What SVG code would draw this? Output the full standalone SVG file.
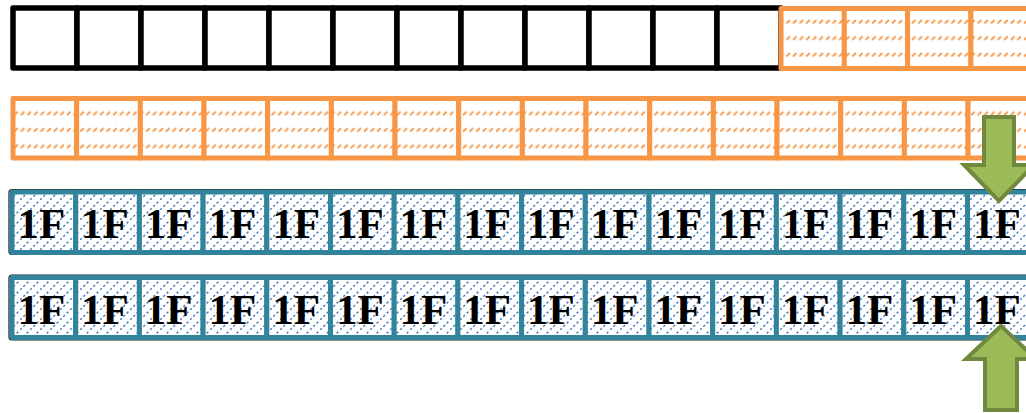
<svg xmlns="http://www.w3.org/2000/svg" width="1026" height="413" viewBox="0 0 1026 413">
  <style>
    .blk { fill: #ffffff; stroke: #000000; stroke-width: 5.5; stroke-linejoin: round; }
    .or1 { fill: url(#po1); stroke: #F79646; stroke-width: 5; stroke-linejoin: round; }
    .or2 { fill: url(#po2); stroke: #F79646; stroke-width: 5; stroke-linejoin: round; }
    .tl { fill: url(#pb); stroke: #31849B; stroke-width: 5; stroke-linejoin: round; }
    .lbl { font-family: "Liberation Serif", "Times New Roman", serif; font-weight: bold; font-size: 43px; fill: #000000; text-anchor: middle; }
    .arr { fill: #9BBB59; stroke: #71893F; stroke-width: 4; stroke-linejoin: miter; }
    .frame { fill: none; stroke: #1a1a1a; stroke-width: 1.2; }
  </style>
  <defs>
    <pattern id="po1" patternUnits="userSpaceOnUse" x="0" y="2.5" width="6.6" height="16.5">
      <rect width="6.6" height="16.5" fill="#ffffff"/>
      <path d="M1 4.5 L4.5 1" stroke="#F79646" stroke-width="1.8" fill="none"/>
    </pattern>
    <pattern id="po2" patternUnits="userSpaceOnUse" x="0" y="11.7" width="6.6" height="16.5">
      <rect width="6.6" height="16.5" fill="#ffffff"/>
      <path d="M1 4.5 L4.5 1" stroke="#F79646" stroke-width="1.8" fill="none"/>
    </pattern>
    <pattern id="pb" patternUnits="userSpaceOnUse" x="0" y="0" width="10" height="10">
      <rect width="10" height="10" fill="#ffffff"/>
      <path d="M0 10 L10 0" stroke="#4F81BD" stroke-width="1.5" stroke-dasharray="2.4 2.3" fill="none"/>
    </pattern>
  </defs>

  <g id="row1">
    <rect id="r1c1" class="blk" x="13" y="8" width="64" height="60"/>
    <rect id="r1c2" class="blk" x="77" y="8" width="64" height="60"/>
    <rect id="r1c3" class="blk" x="141" y="8" width="64" height="60"/>
    <rect id="r1c4" class="blk" x="205" y="8" width="64" height="60"/>
    <rect id="r1c5" class="blk" x="269" y="8" width="64" height="60"/>
    <rect id="r1c6" class="blk" x="333" y="8" width="64" height="60"/>
    <rect id="r1c7" class="blk" x="397" y="8" width="64" height="60"/>
    <rect id="r1c8" class="blk" x="461" y="8" width="64" height="60"/>
    <rect id="r1c9" class="blk" x="525" y="8" width="64" height="60"/>
    <rect id="r1c10" class="blk" x="589" y="8" width="64" height="60"/>
    <rect id="r1c11" class="blk" x="653" y="8" width="64" height="60"/>
    <rect id="r1c12" class="blk" x="717" y="8" width="64" height="60"/>
    <rect id="r1c13" class="or1" x="781" y="8.5" width="63.3" height="60"/>
    <rect id="r1c14" class="or1" x="844.3" y="8.5" width="63.3" height="60"/>
    <rect id="r1c15" class="or1" x="907.6" y="8.5" width="63.3" height="60"/>
    <rect id="r1c16" class="or1" x="970.9" y="8.5" width="63.3" height="60"/>
  </g>

  <g id="row2">
    <rect id="r2c1" class="or2" x="13" y="98.5" width="63.67" height="59.5"/>
    <rect id="r2c2" class="or2" x="76.67" y="98.5" width="63.67" height="59.5"/>
    <rect id="r2c3" class="or2" x="140.34" y="98.5" width="63.67" height="59.5"/>
    <rect id="r2c4" class="or2" x="204.01" y="98.5" width="63.67" height="59.5"/>
    <rect id="r2c5" class="or2" x="267.68" y="98.5" width="63.67" height="59.5"/>
    <rect id="r2c6" class="or2" x="331.35" y="98.5" width="63.67" height="59.5"/>
    <rect id="r2c7" class="or2" x="395.02" y="98.5" width="63.67" height="59.5"/>
    <rect id="r2c8" class="or2" x="458.69" y="98.5" width="63.67" height="59.5"/>
    <rect id="r2c9" class="or2" x="522.36" y="98.5" width="63.67" height="59.5"/>
    <rect id="r2c10" class="or2" x="586.03" y="98.5" width="63.67" height="59.5"/>
    <rect id="r2c11" class="or2" x="649.7" y="98.5" width="63.67" height="59.5"/>
    <rect id="r2c12" class="or2" x="713.37" y="98.5" width="63.67" height="59.5"/>
    <rect id="r2c13" class="or2" x="777.04" y="98.5" width="63.67" height="59.5"/>
    <rect id="r2c14" class="or2" x="840.71" y="98.5" width="63.67" height="59.5"/>
    <rect id="r2c15" class="or2" x="904.38" y="98.5" width="63.67" height="59.5"/>
    <rect id="r2c16" class="or2" x="968.05" y="98.5" width="63.67" height="59.5"/>
  </g>

  <g id="row3">
    <rect class="frame" x="9" y="189.5" width="1100" height="65" rx="3"/>
    <g id="r3c1"><rect class="tl" x="12" y="192" width="63.7" height="60.5"/><text class="lbl" x="41.3" y="238">1F</text></g>
    <g id="r3c2"><rect class="tl" x="75.7" y="192" width="63.7" height="60.5"/><text class="lbl" x="105" y="238">1F</text></g>
    <g id="r3c3"><rect class="tl" x="139.4" y="192" width="63.7" height="60.5"/><text class="lbl" x="168.7" y="238">1F</text></g>
    <g id="r3c4"><rect class="tl" x="203.1" y="192" width="63.7" height="60.5"/><text class="lbl" x="232.4" y="238">1F</text></g>
    <g id="r3c5"><rect class="tl" x="266.8" y="192" width="63.7" height="60.5"/><text class="lbl" x="296.1" y="238">1F</text></g>
    <g id="r3c6"><rect class="tl" x="330.5" y="192" width="63.7" height="60.5"/><text class="lbl" x="359.8" y="238">1F</text></g>
    <g id="r3c7"><rect class="tl" x="394.2" y="192" width="63.7" height="60.5"/><text class="lbl" x="423.5" y="238">1F</text></g>
    <g id="r3c8"><rect class="tl" x="457.9" y="192" width="63.7" height="60.5"/><text class="lbl" x="487.2" y="238">1F</text></g>
    <g id="r3c9"><rect class="tl" x="521.6" y="192" width="63.7" height="60.5"/><text class="lbl" x="550.9" y="238">1F</text></g>
    <g id="r3c10"><rect class="tl" x="585.3" y="192" width="63.7" height="60.5"/><text class="lbl" x="614.6" y="238">1F</text></g>
    <g id="r3c11"><rect class="tl" x="649" y="192" width="63.7" height="60.5"/><text class="lbl" x="678.3" y="238">1F</text></g>
    <g id="r3c12"><rect class="tl" x="712.7" y="192" width="63.7" height="60.5"/><text class="lbl" x="742" y="238">1F</text></g>
    <g id="r3c13"><rect class="tl" x="776.4" y="192" width="63.7" height="60.5"/><text class="lbl" x="805.7" y="238">1F</text></g>
    <g id="r3c14"><rect class="tl" x="840.1" y="192" width="63.7" height="60.5"/><text class="lbl" x="869.4" y="238">1F</text></g>
    <g id="r3c15"><rect class="tl" x="903.8" y="192" width="63.7" height="60.5"/><text class="lbl" x="933.1" y="238">1F</text></g>
    <g id="r3c16"><rect class="tl" x="967.5" y="192" width="63.7" height="60.5"/><text class="lbl" x="996.8" y="238">1F</text></g>
  </g>

  <g id="row4">
    <rect class="frame" x="9" y="275" width="1100" height="65" rx="3"/>
    <g id="r4c1"><rect class="tl" x="12" y="277.5" width="63.7" height="60"/><text class="lbl" x="41.3" y="324">1F</text></g>
    <g id="r4c2"><rect class="tl" x="75.7" y="277.5" width="63.7" height="60"/><text class="lbl" x="105" y="324">1F</text></g>
    <g id="r4c3"><rect class="tl" x="139.4" y="277.5" width="63.7" height="60"/><text class="lbl" x="168.7" y="324">1F</text></g>
    <g id="r4c4"><rect class="tl" x="203.1" y="277.5" width="63.7" height="60"/><text class="lbl" x="232.4" y="324">1F</text></g>
    <g id="r4c5"><rect class="tl" x="266.8" y="277.5" width="63.7" height="60"/><text class="lbl" x="296.1" y="324">1F</text></g>
    <g id="r4c6"><rect class="tl" x="330.5" y="277.5" width="63.7" height="60"/><text class="lbl" x="359.8" y="324">1F</text></g>
    <g id="r4c7"><rect class="tl" x="394.2" y="277.5" width="63.7" height="60"/><text class="lbl" x="423.5" y="324">1F</text></g>
    <g id="r4c8"><rect class="tl" x="457.9" y="277.5" width="63.7" height="60"/><text class="lbl" x="487.2" y="324">1F</text></g>
    <g id="r4c9"><rect class="tl" x="521.6" y="277.5" width="63.7" height="60"/><text class="lbl" x="550.9" y="324">1F</text></g>
    <g id="r4c10"><rect class="tl" x="585.3" y="277.5" width="63.7" height="60"/><text class="lbl" x="614.6" y="324">1F</text></g>
    <g id="r4c11"><rect class="tl" x="649" y="277.5" width="63.7" height="60"/><text class="lbl" x="678.3" y="324">1F</text></g>
    <g id="r4c12"><rect class="tl" x="712.7" y="277.5" width="63.7" height="60"/><text class="lbl" x="742" y="324">1F</text></g>
    <g id="r4c13"><rect class="tl" x="776.4" y="277.5" width="63.7" height="60"/><text class="lbl" x="805.7" y="324">1F</text></g>
    <g id="r4c14"><rect class="tl" x="840.1" y="277.5" width="63.7" height="60"/><text class="lbl" x="869.4" y="324">1F</text></g>
    <g id="r4c15"><rect class="tl" x="903.8" y="277.5" width="63.7" height="60"/><text class="lbl" x="933.1" y="324">1F</text></g>
    <g id="r4c16"><rect class="tl" x="967.5" y="277.5" width="63.7" height="60"/><text class="lbl" x="996.8" y="324">1F</text></g>
  </g>

  <g id="connectors">
    <polygon id="arrow-down" class="arr" points="984,117 1014,117 1014,165 1034,165 999,201 964,165 984,165"/>
    <polygon id="arrow-up" class="arr" points="1001,326 1036,359 1017,359 1017,410 985,410 985,359 966,359"/>
  </g>
</svg>
